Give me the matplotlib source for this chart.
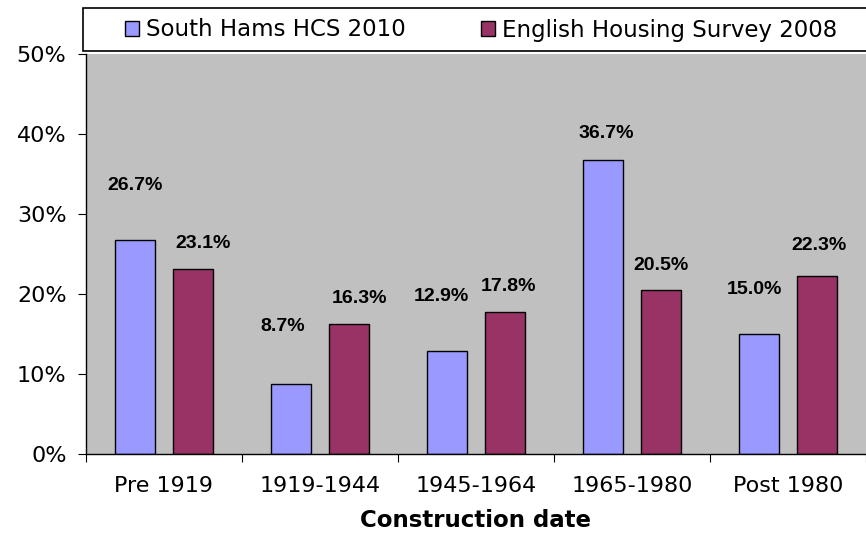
import numpy as np
import matplotlib
matplotlib.use("Agg")
import matplotlib.pyplot as plt
from matplotlib.patches import Patch, Rectangle
from matplotlib.ticker import PercentFormatter

# data
categories = ['Pre 1919', '1919-1944', '1945-1964', '1965-1980', 'Post 1980']
south_hams = [26.7, 8.7, 12.9, 36.7, 15.0]
ehs = [23.1, 16.3, 17.8, 20.5, 22.3]
series_names = ['South Hams HCS 2010', 'English Housing Survey 2008']

# label offsets in pixels (dx, dy) - Excel put them a bit all over the place
sh_offsets = [(0, 55), (-8, 58), (-6, 54), (3, 27), (-5, 44)]
ehs_offsets = [(10, 26), (10, 25), (3, 25), (0, 25), (2, 30)]

blue = '#9999FF'
maroon = '#993366'

fig = plt.figure(figsize=(8.66, 5.34), dpi=100)
ax = fig.add_axes([86 / 866, 80 / 534, 780 / 866, 400 / 534])
ax.set_facecolor('#C0C0C0')

x = np.arange(len(categories))
w = 0.256
ax.bar(x - 0.186, south_hams, w, color=blue, edgecolor='black', linewidth=1)
ax.bar(x + 0.186, ehs, w, color=maroon, edgecolor='black', linewidth=1)

for i in range(len(categories)):
    ax.annotate(f'{south_hams[i]:.1f}%', (x[i] - 0.186, south_hams[i]),
                xytext=(sh_offsets[i][0] * 0.72, sh_offsets[i][1] * 0.72),
                textcoords='offset points', ha='center', va='center',
                fontsize=14, fontweight='bold', family='Liberation Sans')
    ax.annotate(f'{ehs[i]:.1f}%', (x[i] + 0.186, ehs[i]),
                xytext=(ehs_offsets[i][0] * 0.72, ehs_offsets[i][1] * 0.72),
                textcoords='offset points', ha='center', va='center',
                fontsize=14, fontweight='bold', family='Liberation Sans')

ax.set_xlim(-0.5, len(categories) - 0.5)
ax.set_ylim(0, 50)
ax.set_yticks([0, 10, 20, 30, 40, 50])
ax.yaxis.set_major_formatter(PercentFormatter(decimals=0))
ax.tick_params(axis='y', length=6, labelsize=16, pad=8)

# category labels between boundary ticks
ax.set_xticks(np.arange(-0.5, len(categories), 1.0))
ax.set_xticklabels([])
ax.set_xticks(x, minor=True)
ax.set_xticklabels(categories, minor=True, fontsize=16)
ax.tick_params(axis='x', which='major', length=6, direction='out')
ax.tick_params(axis='x', which='minor', length=0, pad=16)
ax.set_xlabel('Construction date', fontsize=16.5, fontweight='bold', labelpad=9)

for s in ['top', 'right']:
    ax.spines[s].set_visible(False)
for s in ['left', 'bottom']:
    ax.spines[s].set_color('black')
    ax.spines[s].set_linewidth(1)

# legend box spans from the axis to past the right edge
fig.patches.append(Rectangle((83 / 866, 1 - 51 / 534), 800 / 866, 43 / 534,
                             transform=fig.transFigure, facecolor='white',
                             edgecolor='black', linewidth=1.2, zorder=1))
handles = [Patch(facecolor=blue, edgecolor='black'),
           Patch(facecolor=maroon, edgecolor='black')]
leg = fig.legend(handles, series_names, loc='center',
                 bbox_to_anchor=(481 / 866, 1 - 30 / 534),
                 ncol=2, fontsize=16.5, frameon=False,
                 handlelength=0.62, handleheight=0.62, handletextpad=0.3,
                 columnspacing=3.3, borderaxespad=0, borderpad=0)
leg.set_zorder(2)

fig.savefig('out.png', dpi=100)
